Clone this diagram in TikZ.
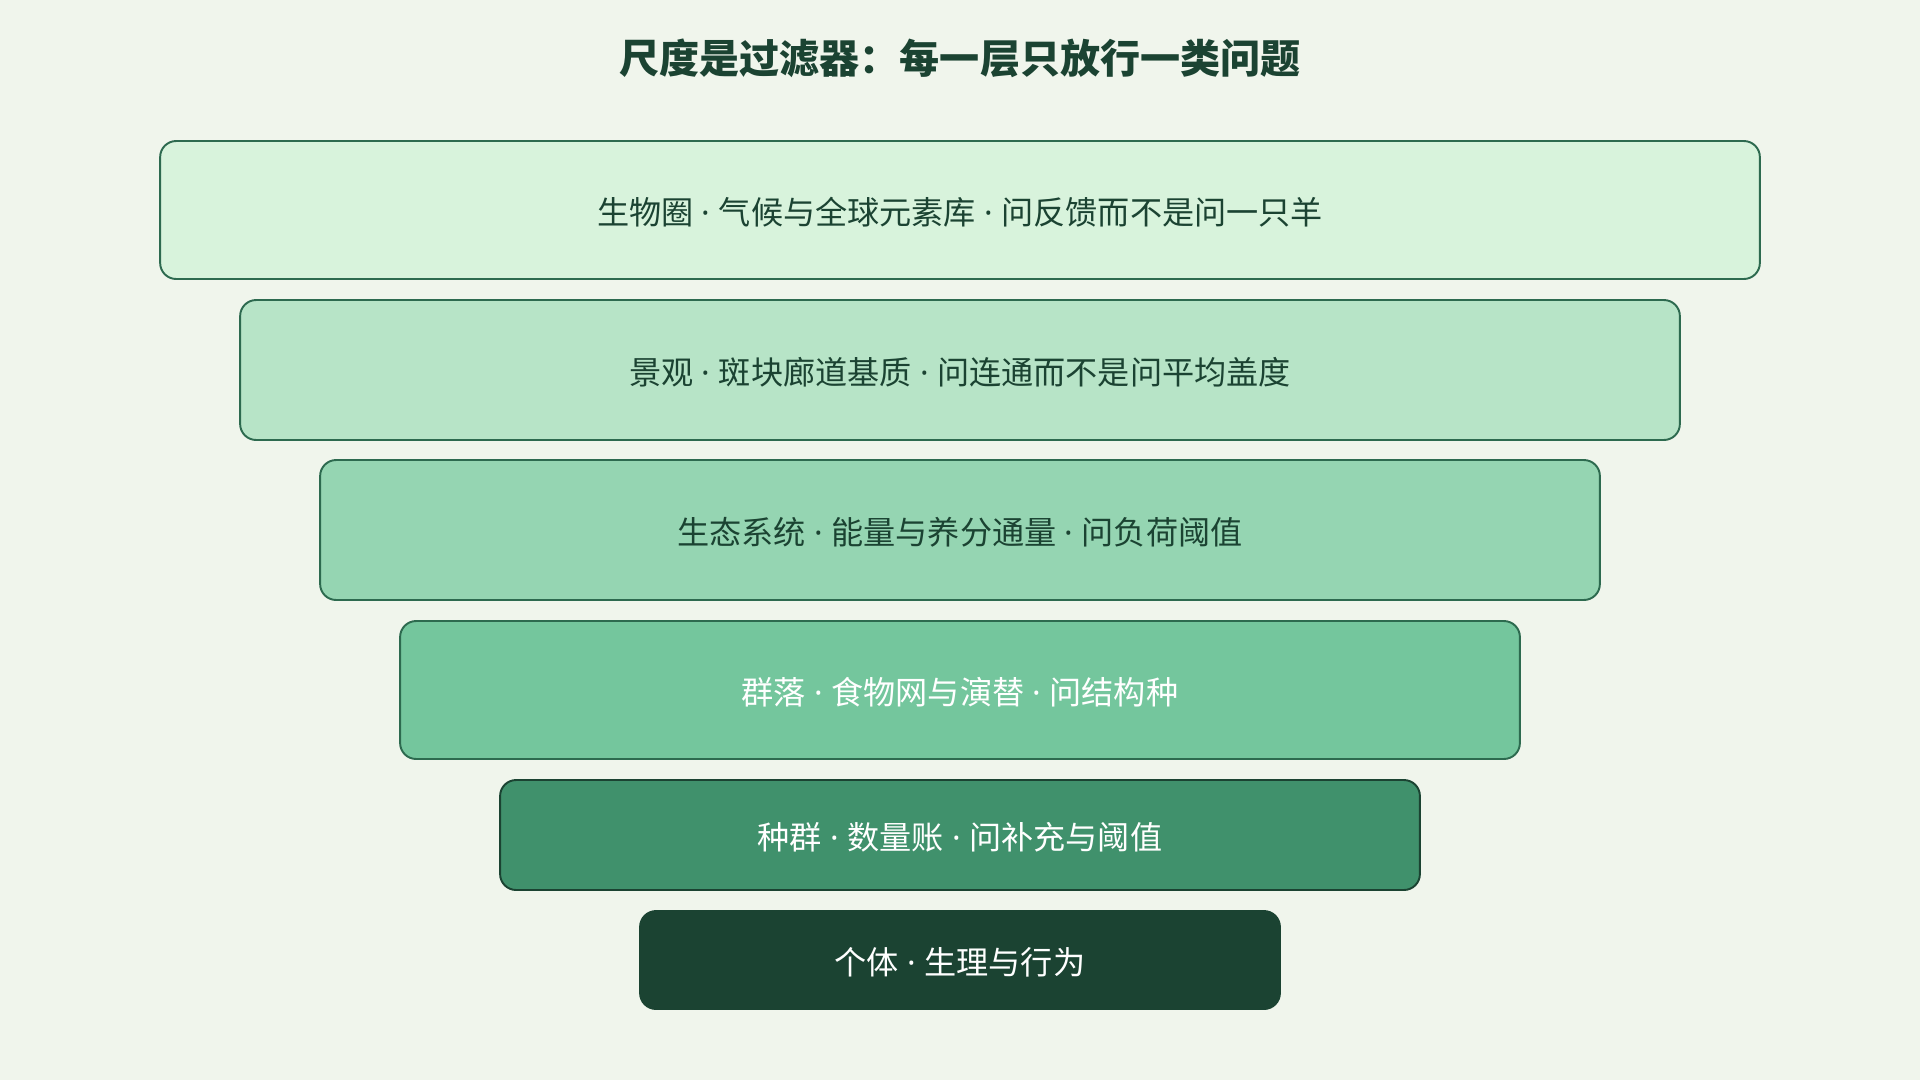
\documentclass[tikz,border=0pt]{standalone}
\usepackage{fontspec}
\setmainfont{Noto Sans CJK SC}
\newfontfamily\dotfont{Noto Sans}
\newcommand\midsep{{\dotfont\ ·\ }}
\definecolor{bgpaper}{HTML}{F0F5EC}
\definecolor{edgegreen}{HTML}{2D6A4F}
\definecolor{deepgreen}{HTML}{1B4332}
\definecolor{lvlA}{HTML}{D8F3DC}
\definecolor{lvlB}{HTML}{B7E4C7}
\definecolor{lvlC}{HTML}{95D5B2}
\definecolor{lvlD}{HTML}{74C69D}
\definecolor{lvlE}{HTML}{40916C}
\tikzset{
  layer/.style={draw=edgegreen, line width=1.1pt, rounded corners=0.32cm,
    minimum height=2.8cm, text=deepgreen, font=\fontsize{18.3}{22}\selectfont,
    text height=17.6pt, text depth=0.7pt},
  darklayer/.style={layer, text=white}
}
\begin{document}
\begin{tikzpicture}[x=0.02cm,y=-0.02cm]
	\fill[bgpaper] (0,0) rectangle (1920,1080);
	\useasboundingbox (0,0) rectangle (1920,1080);
	\node[font=\fontsize{22.8}{26}\selectfont\bfseries, text=deepgreen] (title) at (960,58) {尺度是过滤器：每一层只放行一类问题};
	\node[layer, fill=lvlA, minimum width=32cm, minimum height=2.76cm] (biosphere) at (960,210) {生物圈\midsep 气候与全球元素库\midsep 问反馈而不是问一只羊};
	\node[layer, fill=lvlB, minimum width=28.8cm] (landscape) at (960,370) {景观\midsep 斑块廊道基质\midsep 问连通而不是问平均盖度};
	\node[layer, fill=lvlC, minimum width=25.6cm] (ecosystem) at (960,530) {生态系统\midsep 能量与养分通量\midsep 问负荷阈值};
	\node[darklayer, fill=lvlD, minimum width=22.4cm, minimum height=2.76cm] (community) at (960,690) {群落\midsep 食物网与演替\midsep 问结构种};
	\node[darklayer, fill=lvlE, draw=deepgreen, minimum width=18.4cm, minimum height=2.2cm] (population) at (960,835) {种群\midsep 数量账\midsep 问补充与阈值};
	\node[darklayer, fill=deepgreen, draw=deepgreen, minimum width=12.8cm, minimum height=1.96cm] (individual) at (960,960) {个体\midsep 生理与行为};
\end{tikzpicture}
\end{document}
